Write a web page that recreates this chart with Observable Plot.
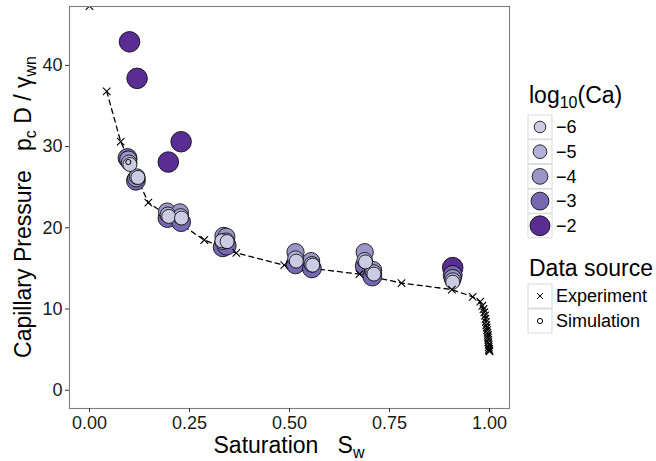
<!DOCTYPE html>
<html><head><meta charset="utf-8">
<script src="https://cdn.jsdelivr.net/npm/d3@7"></script>
<script src="https://cdn.jsdelivr.net/npm/@observablehq/plot@0.6"></script>
<style>body{margin:0;background:#fff}</style>
</head><body><div id="chart"></div>
<script>
// Experiment (capillary pressure curve)
const expS = [0.000, 0.043, 0.078, 0.147, 0.287, 0.367, 0.487, 0.675, 0.780, 0.906, 0.958, 0.977, 0.982, 0.985, 0.987, 0.989, 0.990, 0.991, 0.992, 0.993, 0.994, 0.995, 0.996, 0.996, 0.997, 0.997, 0.998, 0.998, 0.999, 0.999, 1.000];
const expP = [47.3, 36.8, 30.6, 23.1, 18.5, 16.9, 15.4, 14.3, 13.2, 12.4, 11.5, 10.9, 10.4, 10.0, 9.6, 9.2, 8.8, 8.4, 8.0, 7.7, 7.4, 7.1, 6.8, 6.5, 6.2, 5.9, 5.6, 5.3, 5.1, 4.9, 4.8];
// Simulation
const simS = [0.100, 0.119, 0.197, 0.229,
  0.095, 0.097, 0.099, 0.101,
  0.116, 0.117, 0.119, 0.121,
  0.195, 0.194, 0.196, 0.198,
  0.229, 0.226, 0.228, 0.230,
  0.333, 0.335, 0.333, 0.331,
  0.343, 0.342, 0.342, 0.344,
  0.515, 0.515, 0.515, 0.517,
  0.556, 0.554, 0.556, 0.558,
  0.688, 0.688, 0.688, 0.690,
  0.707, 0.709, 0.710, 0.711,
  0.908, 0.908, 0.908, 0.908, 0.908];
const simP = [42.9, 38.4, 28.1, 30.6,
  28.6, 28.4, 28.0, 27.8,
  25.8, 26.1, 26.3, 26.2,
  21.2, 22.0, 21.6, 21.4,
  20.7, 21.9, 21.4, 21.2,
  17.6, 19.0, 18.3, 18.4,
  17.8, 18.9, 18.4, 18.3,
  15.5, 17.0, 16.2, 15.9,
  15.0, 15.9, 15.5, 15.4,
  15.3, 17.0, 16.0, 15.8,
  14.0, 14.8, 14.5, 14.3,
  15.1, 14.2, 13.8, 13.5, 13.3];
const simCa = [-2, -2, -2, -2,
  -3, -4, -5, -6,
  -3, -4, -5, -6,
  -3, -4, -5, -6,
  -3, -4, -5, -6,
  -3, -4, -5, -6,
  -3, -4, -5, -6,
  -3, -4, -5, -6,
  -3, -4, -5, -6,
  -3, -4, -5, -6,
  -3, -4, -5, -6,
  -2, -3, -4, -5, -6];
// Simulation point without a Ca value (plain open marker)
const markS = [0.097];
const markP = [28.1];

const caLevels = [-6, -5, -4, -3, -2];
const caLabels = ["\u22126", "\u22125", "\u22124", "\u22123", "\u22122"];
const caColors = ["#cbcbe4", "#b3b1d7", "#9b95c8", "#7667b1", "#5a2d93"];
const sourceLabels = ["Experiment", "Simulation"];
const xTicks = [0, 0.25, 0.5, 0.75, 1];
const yTicks = [0, 10, 20, 30, 40];

const exp = expS.map((s, i) => ({s, p: expP[i]}));
const sim = simS.map((s, i) => ({s, p: simP[i], ca: simCa[i]}));
const marks = markS.map((s, i) => ({s, p: markP[i]}));
const FONT = "'Liberation Sans', Arial, Helvetica, sans-serif";

const chart = Plot.plot({
  width: 656, height: 461,
  marginLeft: 69, marginRight: 147, marginTop: 6, marginBottom: 53,
  style: {fontFamily: FONT, fontSize: "18px", color: "#1a1a1a", background: "#fff"},
  x: {domain: [-0.05, 1.05]},
  y: {domain: [-2.25, 47.25]},
  color: {type: "ordinal", domain: caLevels, range: caColors},
  r: {type: "linear", domain: [-6, -2], range: [7, 10.3]},
  marks: [
    Plot.line(exp.slice(1), {x: "s", y: "p", stroke: "black", strokeWidth: 1.3, strokeDasharray: "5,4"}),
    Plot.dot(sim, {x: "s", y: "p", r: "ca", fill: "ca", stroke: "black", strokeWidth: 0.8}),
    Plot.dot(marks, {x: "s", y: "p", r: 2.6, stroke: "black", fill: "none", strokeWidth: 1}),
    Plot.dot(exp, {x: "s", y: "p", symbol: "times", r: 3.5, stroke: "black", strokeWidth: 1.1, clip: true}),
    Plot.frame({stroke: "#7f7f7f", strokeWidth: 1.1}),
    Plot.axisX({ticks: xTicks, tickFormat: d3.format(".2f"), tickSize: 4, tickPadding: 4, label: null, stroke: "#333"}),
    Plot.axisY({ticks: yTicks, tickSize: 4, tickPadding: 3, label: null, stroke: "#333"})
  ]
});
document.getElementById("chart").appendChild(chart);

const svg = d3.select(chart);
// Axis titles
const xt = svg.append("text").attr("x", 289).attr("y", 453).attr("text-anchor", "middle")
  .attr("font-family", FONT).attr("font-size", 23).attr("fill", "#000").style("white-space", "pre");
xt.append("tspan").text("Saturation   S");
xt.append("tspan").attr("dy", 5).attr("font-size", 16).text("w");

const yt = svg.append("text").attr("transform", "translate(31,207) rotate(-90)").attr("text-anchor", "middle")
  .attr("font-family", FONT).attr("font-size", 23).attr("fill", "#000").style("white-space", "pre");
yt.append("tspan").text("Capillary Pressure   p");
yt.append("tspan").attr("dy", 5).attr("font-size", 16).text("c");
yt.append("tspan").attr("dy", -5).text(" D / \u03b3");
yt.append("tspan").attr("dy", 5).attr("font-size", 16).text("wn");

// Legend: log10(Ca)
const lg = svg.append("g").attr("font-family", FONT).attr("text-anchor", "start");
const t1 = lg.append("text").attr("x", 529).attr("y", 103).attr("font-size", 23).attr("fill", "#000").attr("text-anchor", "start");
t1.append("tspan").text("log");
t1.append("tspan").attr("dy", 5).attr("font-size", 16).text("10");
t1.append("tspan").attr("dy", -5).text("(Ca)");
const rScale = d3.scaleLinear().domain([-6, -2]).range([5.8, 10]);
caLevels.forEach((c, i) => {
  const cy = 127 + i * 24.7;
  lg.append("rect").attr("x", 528).attr("y", cy - 12).attr("width", 24).attr("height", 24)
    .attr("fill", "#fff").attr("stroke", "#d9d9d9").attr("stroke-width", 1);
  lg.append("circle").attr("cx", 540).attr("cy", cy).attr("r", rScale(c))
    .attr("fill", caColors[i]).attr("stroke", "#000").attr("stroke-width", 0.8);
  lg.append("text").attr("x", 556).attr("y", cy).attr("dy", "0.35em").attr("font-size", 18).attr("fill", "#000")
    .attr("text-anchor", "start").text(caLabels[i]);
});
// Legend: Data source
lg.append("text").attr("x", 529).attr("y", 276).attr("font-size", 23).attr("fill", "#000").attr("text-anchor", "start").text("Data source");
sourceLabels.forEach((lab, i) => {
  const cy = 296 + i * 25;
  lg.append("rect").attr("x", 528).attr("y", cy - 12).attr("width", 24).attr("height", 24)
    .attr("fill", "#fff").attr("stroke", "#d9d9d9").attr("stroke-width", 1);
  if (i === 0) {
    lg.append("path").attr("d", d3.symbol(d3.symbolTimes, 24)()).attr("transform", `translate(540,${cy})`)
      .attr("fill", "none").attr("stroke", "#000").attr("stroke-width", 1);
  } else {
    lg.append("circle").attr("cx", 540).attr("cy", cy).attr("r", 2.6).attr("fill", "none").attr("stroke", "#000").attr("stroke-width", 1);
  }
  lg.append("text").attr("x", 556).attr("y", cy).attr("dy", "0.35em").attr("font-size", 18).attr("fill", "#000")
    .attr("text-anchor", "start").text(lab);
});
</script></body></html>
